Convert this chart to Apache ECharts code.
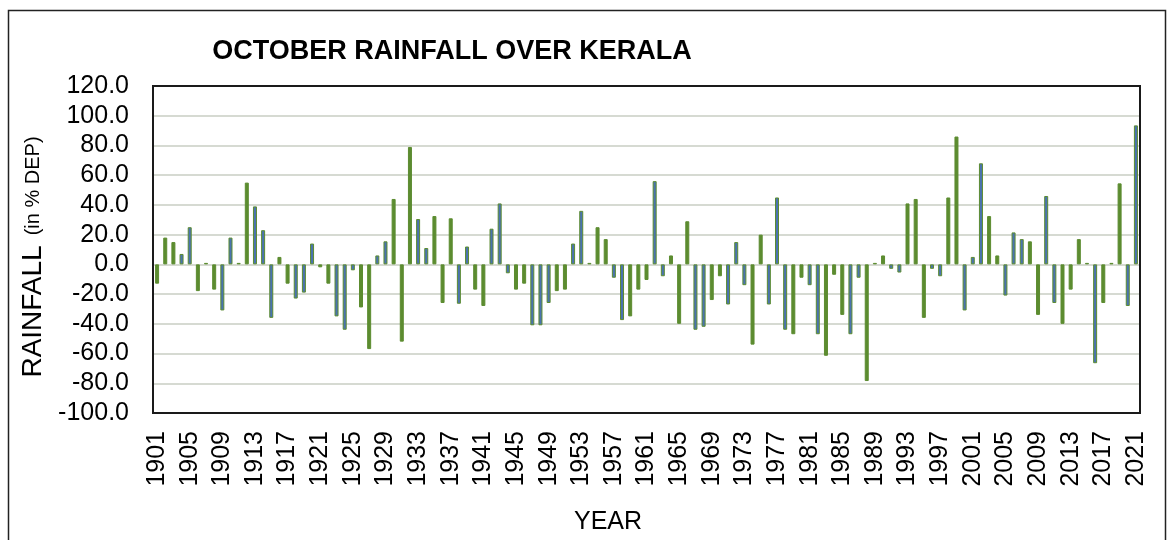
<!DOCTYPE html>
<html>
<head>
<meta charset="utf-8">
<script src="https://cdn.jsdelivr.net/npm/echarts@6/dist/echarts.min.js"></script>
<style>
  html, body { margin: 0; padding: 0; background: #fff; }
  #main { width: 1171px; height: 540px; }
</style>
</head>
<body>
<div id="main"></div>
<script>
// years 1901 - 2021
const years = [];
for (let y = 1901; y <= 2021; y++) years.push(String(y));

// October rainfall, % departure from normal
const rain1901to1920 = [-13, 18, 15, 7, 25, -18, 1, -17, -31, 18, 1, 55, 39, 23, -36, 5, -13, -23, -19, 14];
const rain1921to1940 = [-2, -13, -35, -44, -4, -29, -57, 6, 15.5, 44, -52, 79, 30.5, 11, 32.5, -26, 31, -26.5, 12, -17];
const rain1941to1960 = [-28, 24, 41, -6, -17, -13, -41, -41, -26, -18, -17, 14, 36, 1, 25, 17, -9, -37.5, -35, -17];
const rain1961to1980 = [-10.5, 56, -8, 6, -40, 29, -44, -42, -24, -8, -27, 15, -14, -54, 20, -27, 45, -44, -47, -9];
const rain1981to2000 = [-14, -47, -61.5, -7, -34, -47, -9, -78.5, 1, 6, -3, -5.5, 41, 44, -36, -3, -8, 45, 86, -31];
const rain2001to2021 = [5, 68, 32.5, 6, -21, 21.5, 17, 15.5, -34, 46, -26, -40, -17, 17, 1, -66.5, -26, 1, 54.5, -28, 93.5];

const rainfall = [].concat(rain1901to1920, rain1921to1940, rain1941to1960,
  rain1961to1980, rain1981to2000, rain2001to2021);

const yMin = -100, yMax = 120, yStep = 20;

const GREEN = '#5c8c30';
const BLUE = '#4a73b0';
const FONT = '"Liberation Sans", Arial, sans-serif';

let chart = echarts.init(document.getElementById('main'), null, { renderer: 'canvas' });

let option = {
  animation: false,
  backgroundColor: '#fff',
  title: {
    text: 'OCTOBER RAINFALL OVER KERALA',
    left: 447,
    top: 33,
    textAlign: 'center',
    textStyle: { fontFamily: FONT, fontWeight: 'bold', fontSize: 27, color: '#000' }
  },
  grid: {
    left: 153, right: 31, top: 86, bottom: 127,
    show: false,
    containLabel: false
  },
  xAxis: {
    type: 'category',
    data: years,
    position: 'bottom',
    axisLine: { show: false },
    axisTick: { show: false },
    axisLabel: {
      interval: 3,
      rotate: 90,
      margin: 18,
      fontFamily: FONT,
      fontSize: 25,
      color: '#000'
    }
  },
  yAxis: {
    type: 'value',
    min: yMin, max: yMax, interval: yStep,
    axisLine: { show: false },
    axisTick: { show: false },
    splitLine: { showMinLine: false, showMaxLine: false, lineStyle: { color: '#d6dad2', width: 2 } },
    axisLabel: {
      margin: 24,
      fontFamily: FONT,
      fontSize: 25,
      color: '#000',
      formatter: v => v.toFixed(1)
    }
  },
  graphic: [
    {
      // outer frame
      type: 'rect',
      shape: { x: 8.5, y: 10.5, width: 1157, height: 560 },
      style: { fill: null, stroke: '#222', lineWidth: 1.5 },
      silent: true
    },
    {
      // plot area frame
      type: 'rect',
      shape: { x: 153, y: 86, width: 987, height: 327 },
      style: { fill: null, stroke: '#1a1a1a', lineWidth: 2 },
      z: 10,
      silent: true
    },
    {
      type: 'text',
      x: 33, y: 257,
      rotation: Math.PI / 2,
      style: {
        text: '{a|RAINFALL}   {b|(in % DEP)}',
        align: 'center',
        verticalAlign: 'middle',
        rich: {
          a: { fontFamily: FONT, fontSize: 28, fill: '#000' },
          b: { fontFamily: FONT, fontSize: 20, fill: '#000' }
        }
      }
    },
    {
      type: 'text',
      x: 608, y: 522,
      style: {
        text: 'YEAR',
        align: 'center',
        verticalAlign: 'middle',
        fontFamily: FONT, fontSize: 25, fill: '#000'
      }
    }
  ],
  series: [
    {
      type: 'bar',
      data: rainfall,
      barWidth: 4,
      itemStyle: {
        borderColor: GREEN,
        borderWidth: 1,
        color: function (p) {
          // thin bars render green, slightly wider ones show the blue fill
          let f = ((p.dataIndex - 3.5) / 4.83) % 1;
          if (f < 0) f += 1;
          return (f < 0.25 || f > 0.75) ? BLUE : GREEN;
        }
      }
    }
  ]
};

chart.setOption(option);
</script>
</body>
</html>
